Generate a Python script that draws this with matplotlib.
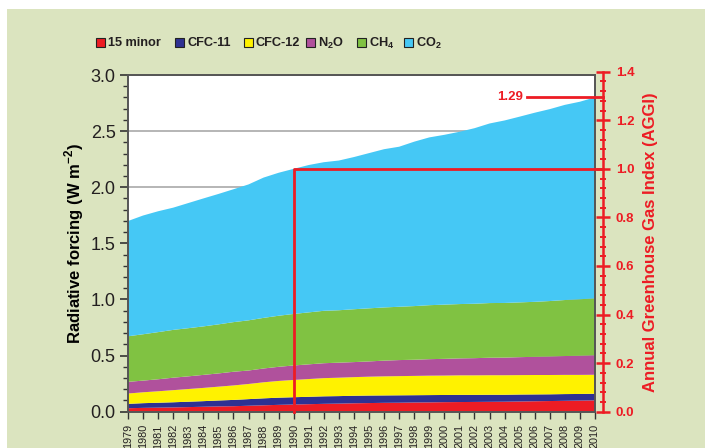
# Radiative forcing of long-lived greenhouse gases and the AGGI, 1979-2010
import matplotlib as mpl
mpl.use('Agg')
import numpy as np
import matplotlib.pyplot as plt
from matplotlib.patches import Rectangle
from matplotlib.ticker import MultipleLocator, FormatStrFormatter

plt.rcParams['font.family'] = ['Liberation Sans', 'DejaVu Sans']
plt.rcParams['mathtext.fontset'] = 'custom'
plt.rcParams['mathtext.rm'] = 'Liberation Sans'
plt.rcParams['mathtext.bf'] = 'Liberation Sans:bold'

years = np.arange(1979, 2011)

# radiative forcing by gas (W m-2)
minor15 = [0.031, 0.034, 0.036, 0.038, 0.041, 0.044, 0.047, 0.049, 0.053, 0.057, 0.061,
           0.064, 0.067, 0.070, 0.072, 0.075, 0.077, 0.079, 0.080, 0.082, 0.083, 0.085,
           0.086, 0.087, 0.088, 0.089, 0.091, 0.093, 0.095, 0.097, 0.099, 0.101]
cfc11 = [0.039, 0.042, 0.044, 0.046, 0.048, 0.050, 0.053, 0.056, 0.059, 0.062, 0.064,
         0.065, 0.066, 0.067, 0.067, 0.067, 0.067, 0.066, 0.066, 0.065, 0.065, 0.064,
         0.064, 0.063, 0.063, 0.062, 0.062, 0.061, 0.060, 0.060, 0.059, 0.059]
cfc12 = [0.092, 0.097, 0.102, 0.108, 0.113, 0.118, 0.123, 0.129, 0.135, 0.143, 0.149,
         0.154, 0.158, 0.162, 0.164, 0.166, 0.168, 0.170, 0.171, 0.172, 0.173, 0.173,
         0.174, 0.174, 0.174, 0.174, 0.173, 0.173, 0.172, 0.171, 0.170, 0.169]
n2o = [0.104, 0.104, 0.107, 0.111, 0.113, 0.116, 0.118, 0.122, 0.120, 0.123, 0.126,
       0.129, 0.131, 0.133, 0.134, 0.134, 0.136, 0.140, 0.143, 0.144, 0.147, 0.149,
       0.151, 0.153, 0.156, 0.157, 0.160, 0.162, 0.165, 0.168, 0.171, 0.174]
ch4 = [0.406, 0.413, 0.420, 0.426, 0.429, 0.432, 0.437, 0.442, 0.447, 0.451, 0.455,
       0.459, 0.463, 0.467, 0.467, 0.471, 0.473, 0.474, 0.475, 0.478, 0.481, 0.483,
       0.484, 0.485, 0.487, 0.487, 0.488, 0.490, 0.494, 0.499, 0.503, 0.507]
co2 = [1.027, 1.058, 1.077, 1.089, 1.115, 1.140, 1.162, 1.184, 1.211, 1.250, 1.274,
       1.293, 1.313, 1.324, 1.334, 1.356, 1.383, 1.410, 1.426, 1.465, 1.495, 1.513,
       1.535, 1.564, 1.600, 1.626, 1.655, 1.685, 1.710, 1.739, 1.760, 1.791]

labels = ['15 minor', 'CFC-11', 'CFC-12', r'N$_\mathbf{2}$O', r'CH$_\mathbf{4}$', r'CO$_\mathbf{2}$']
colors = ['#ed1c24', '#2e3192', '#fff200', '#b0519c', '#80c242', '#45c8f5']

red = '#ed1c24'
total = np.array(minor15) + cfc11 + cfc12 + n2o + ch4 + co2
ref = total[years == 1990][0]
aggi_end = total[-1] / ref

W, H = 705, 448
fig = plt.figure(figsize=(W/100, H/100), dpi=100)
fig.patches.append(Rectangle((7/W, 0), 1, 1 - 9/H, transform=fig.transFigure,
                             facecolor='#dbe4bf', edgecolor='none', zorder=-10))

x0, y0, w, h = 128/W, 36.3/H, 467/W, 336.7/H
ax = fig.add_axes([x0, y0, w, h])
ax.set_facecolor('white')
ax.stackplot(years, minor15, cfc11, cfc12, n2o, ch4, co2, colors=colors, linewidth=0)
ax.set_xlim(1979, 2010)
ax.set_ylim(0, 3.0)
ax.yaxis.set_major_locator(MultipleLocator(0.5))
ax.yaxis.set_minor_locator(MultipleLocator(0.1))
ax.yaxis.set_major_formatter(FormatStrFormatter('%.1f'))
ax.yaxis.grid(True, color='#a9a9a9', lw=1.2)
ax.set_axisbelow(True)
ax.set_xticks(years)
ax.set_xticklabels([str(y) for y in years], rotation=90, fontsize=7.8)
ax.tick_params(axis='x', length=5, width=1, color='#333333', pad=4, labelcolor='#231f20')
ax.tick_params(axis='y', which='major', length=6, width=1.2, color='#333333',
               labelsize=13, labelcolor='#231f20', pad=3)
ax.tick_params(axis='y', which='minor', length=3.5, width=1, color='#333333')
for s in ax.spines.values():
    s.set_color('#555555')
    s.set_linewidth(1.4)
ax.set_ylabel(r'Radiative forcing (W m$^{\mathbf{-2}}$)', fontsize=12, fontweight='bold',
              labelpad=3)

# AGGI axis: same scale as forcing, 1.0 = 1990 forcing, reaching up to 1.4
ax2 = fig.add_axes([x0, y0, w, h * 1.4 * ref / 3.0])
ax2.patch.set_visible(False)
ax2.set_xlim(1979, 2010)
ax2.set_ylim(0, 1.4)
ax2.xaxis.set_visible(False)
ax2.yaxis.tick_right()
ax2.yaxis.set_label_position('right')
for k in ['left', 'top', 'bottom']:
    ax2.spines[k].set_visible(False)
ax2.spines['right'].set_position(('outward', 6))
ax2.spines['right'].set_color(red)
ax2.spines['right'].set_linewidth(1.8)
ax2.yaxis.set_major_locator(MultipleLocator(0.2))
ax2.yaxis.set_minor_locator(MultipleLocator(0.04))
ax2.yaxis.set_major_formatter(FormatStrFormatter('%.1f'))
ax2.tick_params(axis='y', which='major', direction='inout', length=10, width=1.8,
                colors=red, labelsize=9.5, pad=4)
ax2.tick_params(axis='y', which='minor', direction='inout', length=5, width=1.4, colors=red)
for t in ax2.get_yticklabels():
    t.set_fontweight('bold')
ax2.set_ylabel('Annual Greenhouse Gas Index (AGGI)', color=red, fontsize=12,
               fontweight='bold', labelpad=6)

# 1990 reference box and the latest index value
xr = 2010 + 8 / 15.06
ax2.plot([1990, 1990, xr], [0, 1.0, 1.0], color=red, lw=2, clip_on=False, zorder=5)
ax2.plot([2005.5, xr], [aggi_end, aggi_end], color=red, lw=2, clip_on=False, zorder=5)
ax2.text(2005.2, aggi_end, '%.2f' % aggi_end, color=red, fontsize=9.5, fontweight='bold',
         ha='right', va='center')

# legend row across the top
key_x = [96, 175, 244, 306, 357, 404]
for kx, lab, c in zip(key_x, labels, colors):
    fig.patches.append(Rectangle((kx/W, 1 - 47.5/H), 9/W, 9/H, transform=fig.transFigure,
                                 facecolor=c, edgecolor='#222222', linewidth=0.8))
    fig.text((kx + 12)/W, 1 - 43/H, lab, fontsize=9.2, fontweight='bold',
             ha='left', va='center', color='#231f20')

plt.savefig('out.png', dpi=100, facecolor='white')
